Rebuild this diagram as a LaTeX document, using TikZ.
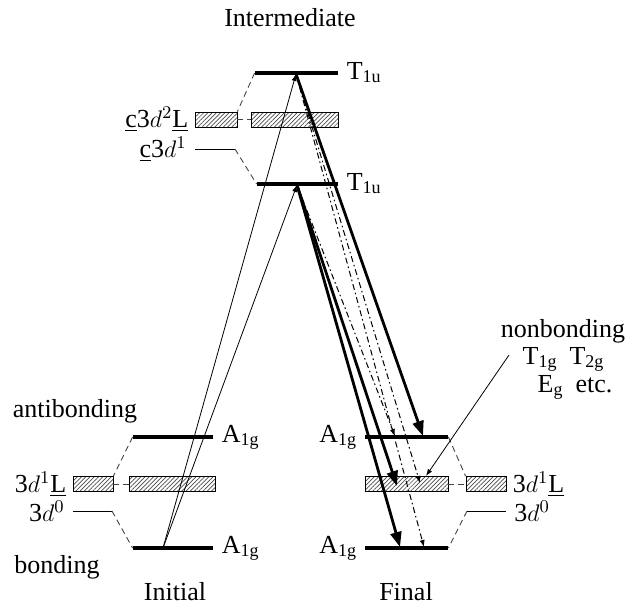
\documentclass[tikz,border=0pt]{standalone}
\usepackage{fontspec}
\setmainfont{Liberation Serif}
\usetikzlibrary{arrows.meta,positioning,patterns.meta}
\definecolor{HatchGray}{HTML}{4A4A4A}
\definecolor{LinkGray}{HTML}{444444}
\tikzset{
  levelbar/.style={fill=black, inner sep=0pt, minimum height=2pt},
  band/.style={draw=black, line width=0.4pt, inner sep=0pt, minimum height=7.5pt,
    pattern={Lines[angle=45, distance=1.5pt, line width=0.35pt]}, pattern color=HatchGray},
  bareline/.style={line width=0.5pt},
  link/.style={densely dashed, line width=0.45pt, draw=LinkGray},
  tag/.style={font=\fontsize{13}{15}\selectfont, inner sep=1pt},
  excite/.style={-{Latex[length=3.5pt, width=2.5pt]}, line width=0.4pt},
  strong/.style={-{Triangle[length=7.5pt, width=5.5pt]}, line width=1.4pt},
  weak/.style={-{Latex[length=3.5pt, width=2.6pt]}, line width=0.5pt, dash pattern=on 3pt off 1.5pt on 0.8pt off 1.5pt},
  pointer/.style={-{Latex[length=3.5pt, width=2.5pt]}, line width=0.4pt}
}
\newcommand{\sub}[1]{\raisebox{-0.25ex}{\fontsize{9}{10}\selectfont #1}}

\begin{document}
\begin{tikzpicture}[x=0.5pt, y=-0.5pt]
  \useasboundingbox (0,0) rectangle (626,605);

  % intermediate states
  \node[tag] (intm) at (290,18) {Intermediate};
  \node[levelbar, minimum width=41.5pt] (ttop) at (296.5,73) {};
  \node[tag, right=3pt of ttop] (ttoplab) {T\sub{1u}};
  \node[band, minimum width=21pt] (cbandL) at (216,119.5) {};
  \node[band, minimum width=43.5pt] (cbandR) at (294.5,119.5) {};
  \node[tag, left=2pt of cbandL] (cbandlab) {\underline{c}3$d^2$\underline{L}};
  \coordinate (cdA) at (195,149);
  \coordinate (cdB) at (235,149);
  \draw[bareline] (cdA) -- (cdB);
  \node[tag, left=3pt of cdA] (cdlab) {\underline{c}3$d^1$};
  \node[levelbar, minimum width=40.5pt] (tlow) at (297.5,184) {};
  \node[tag, right=3pt of tlow] (tlowlab) {T\sub{1u}};
  \draw[link] (ttop.west) -- (cbandL.north east);
  \draw[link] (cbandL.east) -- (cbandR.west);
  \draw[link] (cdB) -- (tlow.west);

  % initial states
  \node[tag] (anti) at (75,411) {antibonding};
  \node[levelbar, minimum width=40pt] (iup) at (173,437) {};
  \node[tag, right=3pt of iup] (iuplab) {A\sub{1g}};
  \node[band, minimum width=20pt] (ibandL) at (93,484) {};
  \node[band, minimum width=43pt] (ibandR) at (172,484) {};
  \node[tag, left=2pt of ibandL] (ibandlab) {3$d^{1}$\underline{L}};
  \coordinate (izA) at (73,511);
  \coordinate (izB) at (112,511);
  \draw[bareline] (izA) -- (izB);
  \node[tag, left=3pt of izA] (izlab) {3$d^0$};
  \node[levelbar, minimum width=40pt] (ilow) at (173,548) {};
  \node[tag, right=3pt of ilow] (ilowlab) {A\sub{1g}};
  \node[tag] (bond) at (57,567) {bonding};
  \node[tag] (init) at (175,592) {Initial};
  \draw[link] (iup.west) -- (ibandL.north east);
  \draw[link] (ibandL.east) -- (ibandR.west);
  \draw[link] (izB) -- (ilow.west);

  % final states
  \node[levelbar, minimum width=41.5pt] (fup) at (406.5,437) {};
  \node[tag, left=3pt of fup] (fuplab) {A\sub{1g}};
  \node[band, minimum width=41.5pt] (fbandL) at (406.5,484) {};
  \node[band, minimum width=20pt] (fbandR) at (486,484) {};
  \node[tag, right=2pt of fbandR] (fbandlab) {3$d^{1}$\underline{L}};
  \coordinate (fzA) at (467,511);
  \coordinate (fzB) at (506,511);
  \draw[bareline] (fzA) -- (fzB);
  \node[tag, right=3pt of fzB] (fzlab) {3$d^0$};
  \node[levelbar, minimum width=41.5pt] (flow) at (406.5,548) {};
  \node[tag, left=3pt of flow] (flowlab) {A\sub{1g}};
  \node[tag] (fin) at (406,592) {Final};
  \draw[link] (fup.east) -- (fbandR.north west);
  \draw[link] (fbandL.east) -- (fbandR.west);
  \draw[link] (fzA) -- (flow.east);

  % nonbonding note
  \node[tag] (nonb) at (563,331) {nonbonding};
  \node[tag] (nonbT) at (563,359) {T\sub{1g}\enspace T\sub{2g}};
  \node[tag] (nonbE) at (575,387) {E\sub{g}\enspace etc.};
  \coordinate (nbfoot) at (509,355);
  \coordinate (nbtip) at (426,476);
  \draw[pointer] (nbfoot) -- (nbtip);

  % transition points
  \coordinate (ilowA) at (163,548);
  \coordinate (ttopA) at (296,74);
  \coordinate (tlowA) at (297,185);
  \coordinate (fupA) at (423,436);
  \coordinate (fupB) at (395,436);
  \coordinate (fbandA) at (397,486);
  \coordinate (fbandB) at (420,483);
  \coordinate (flowA) at (400,547);
  \coordinate (flowB) at (424,547);

  % absorption
  \draw[excite] (ilowA) -- (ttopA);
  \draw[excite] (ilowA) -- (tlowA);
  % emission
  \draw[strong] (ttopA) -- (fupA);
  \draw[strong] (tlowA) -- (fbandA);
  \draw[strong] (tlowA) -- (flowA);
  \draw[weak] (ttopA) -- (fbandB);
  \draw[weak] (ttopA) -- (flowB);
  \draw[weak] (tlowA) -- (fupB);
\end{tikzpicture}
\end{document}
